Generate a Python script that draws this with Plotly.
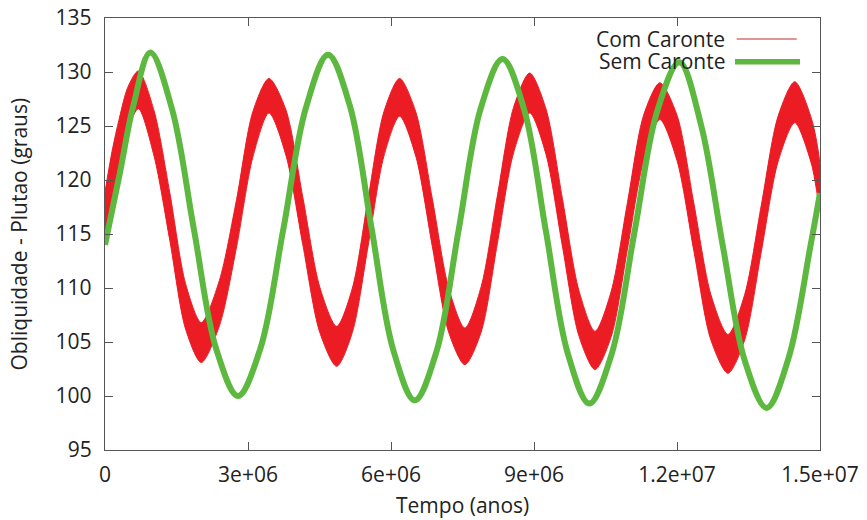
import plotly.graph_objects as go

# ---- data ----
# x in millions of years (scaled to years below), obliquity in degrees
red_x = [0.00, 0.15, 0.30, 0.48, 0.70, 1.03, 1.36, 1.69, 2.02, 2.40, 2.76, 3.10,
         3.44, 3.795, 4.15, 4.505, 4.86, 5.19, 5.52, 5.85, 6.18, 6.52, 6.865, 7.21,
         7.55, 7.89, 8.23, 8.57, 8.91, 9.25, 9.595, 9.94, 10.28, 10.62, 10.96, 11.30,
         11.64, 12.00, 12.355, 12.71, 13.07, 13.42, 13.77, 14.12, 14.47, 14.82, 15.00]
red_upper = [118.9, 122.7, 125.7, 128.6, 130.1, 126.4, 118.8, 110.4, 106.8, 110.7, 118.2, 126.3,
             129.4, 126.5, 118.4, 110.1, 106.45, 110.0, 118.3, 126.3, 129.4, 126.3, 118.3, 110.0,
             106.3, 110.1, 118.5, 126.7, 129.9, 126.6, 118.3, 109.8, 106.0, 109.7, 117.9, 126.0,
             129.0, 126.0, 117.8, 109.4, 105.7, 109.4, 117.7, 125.9, 129.1, 125.7, 121.4]
red_lower = [115.3, 118.5, 121.5, 124.7, 126.6, 122.2, 114.4, 106.2, 103.1, 106.5, 113.8, 122.1,
             126.2, 122.3, 114.0, 105.9, 102.75, 105.9, 113.9, 122.2, 125.9, 122.2, 113.9, 105.9,
             102.9, 105.9, 114.1, 122.5, 126.2, 122.4, 113.9, 105.6, 102.45, 105.5, 113.6, 121.8,
             125.6, 121.8, 113.4, 105.2, 102.1, 105.2, 113.4, 121.7, 125.3, 121.5, 117.4]

green_x = [0.00, 0.31, 0.59, 0.95, 1.41, 1.87, 2.33, 2.79, 3.26, 3.735, 4.21, 4.68,
           5.135, 5.59, 6.045, 6.50, 6.96, 7.42, 7.88, 8.34, 8.795, 9.25, 9.705, 10.16,
           10.63, 11.105, 11.58, 12.05, 12.51, 12.965, 13.42, 13.88, 14.34, 14.80, 15.00]
green_y = [114.0, 120.6, 126.8, 131.8, 126.5, 115.3, 104.4, 100.0, 104.4, 115.3, 126.6, 131.6,
           126.9, 115.6, 104.3, 99.6, 104.2, 115.4, 126.6, 131.2, 126.5, 115.25, 104.0, 99.3,
           103.9, 115.1, 126.3, 130.9, 125.0, 113.8, 103.3, 98.9, 103.5, 113.9, 118.8]

x_tickvals = [0, 3e6, 6e6, 9e6, 1.2e7, 1.5e7]
x_ticktext = ["0", "3e+06", "6e+06", "9e+06", "1.2e+07", "1.5e+07"]
y_tickvals = [95, 100, 105, 110, 115, 120, 125, 130, 135]

series_names = ["Com Caronte", "Sem Caronte"]
x_title = "Tempo (anos)"
y_title = "Obliquidade - Plutao (graus)"

RED = "#EC1C24"
GREEN = "#5DB83F"
TXT = "#222222"
AX = "#555555"
FS = 21

scale = 1e6
rx = [v * scale for v in red_x]
gx = [v * scale for v in green_x]

fig = go.Figure()
fig.add_trace(go.Scatter(
    x=rx + rx[::-1], y=red_upper + red_lower[::-1],
    mode="lines", line=dict(color=RED, width=1, shape="spline", smoothing=0.8),
    fill="toself", fillcolor=RED, name=series_names[0], showlegend=False,
    hoverinfo="skip"))
fig.add_trace(go.Scatter(
    x=gx, y=green_y, mode="lines",
    line=dict(color=GREEN, width=6, shape="spline", smoothing=1.0),
    name=series_names[1], showlegend=False))

axis_common = dict(showgrid=False, zeroline=False, showline=True, linecolor=AX,
                   linewidth=1.3, mirror="allticks", ticks="inside", ticklen=8,
                   tickcolor=AX, tickwidth=1.2, automargin=False,
                   ticklabeloverflow="allow")

fig.update_xaxes(range=[0, 1.5e7], tickvals=x_tickvals, ticktext=x_ticktext,
                 ticklabelstandoff=6, **axis_common)
fig.update_yaxes(range=[95, 135], tickvals=y_tickvals,
                 ticklabelstandoff=8, **axis_common)

# axis titles placed as in the reference
fig.add_annotation(xref="paper", yref="paper", x=0.5, y=-0.127, text=x_title,
                   showarrow=False, xanchor="center", yanchor="middle",
                   font=dict(size=FS, color=TXT))
fig.add_annotation(xref="paper", yref="paper", x=-0.1196, y=0.5, text=y_title,
                   textangle=-90, showarrow=False, xanchor="center", yanchor="middle",
                   font=dict(size=FS, color=TXT))

# gnuplot-style key (text on the left, line sample on the right)
fig.add_annotation(xref="paper", yref="paper", x=0.870, y=0.9525, text=series_names[0],
                   showarrow=False, xanchor="right", yanchor="middle",
                   font=dict(size=FS, color=TXT))
fig.add_annotation(xref="paper", yref="paper", x=0.870, y=0.9005, text=series_names[1],
                   showarrow=False, xanchor="right", yanchor="middle",
                   font=dict(size=FS, color=TXT))
fig.add_shape(type="line", xref="paper", yref="paper", x0=0.8835, x1=0.9674,
              y0=0.9514, y1=0.9514, line=dict(color="#D97070", width=1.3))
fig.add_shape(type="line", xref="paper", yref="paper", x0=0.8811, x1=0.972,
              y0=0.8988, y1=0.8988, line=dict(color=GREEN, width=5.5))

fig.update_layout(
    width=867, height=520,
    margin=dict(l=105, r=47, t=18, b=70),
    paper_bgcolor="white", plot_bgcolor="white",
    font=dict(family="Open Sans", size=FS, color=TXT),
    showlegend=False,
)

# remove the browser's default 8px body margin so the figure fills the window
fig.write_html("out.html", config={"displayModeBar": False},
               post_script="document.body.style.margin='0px';")
